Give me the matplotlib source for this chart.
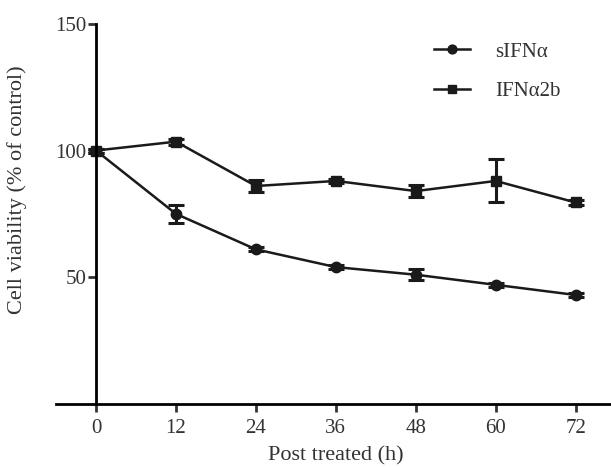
import matplotlib
matplotlib.use('Agg')
import matplotlib.pyplot as plt

plt.rcParams['font.family'] = ['Liberation Serif', 'DejaVu Serif']

hours = [0, 12, 24, 36, 48, 60, 72]

sifna = [100, 75, 61, 54, 51, 47, 43]
sifna_err = [0.8, 3.5, 0.8, 0.8, 2.2, 0.8, 0.8]

ifna2b = [100, 103.5, 86, 88, 84, 88, 79.5]
ifna2b_err = [0.8, 1.2, 2.2, 0.8, 2.5, 8.5, 1.0]

ink = '#1a1a1a'
txt = '#333333'

fig = plt.figure(figsize=(6.11, 4.67), dpi=100)
ax = fig.add_axes([0.0917, 0.135, 0.916, 0.814])

# error bars first, then the lines with markers (legend uses the plain lines)
ax.errorbar(hours, sifna, yerr=sifna_err, fmt='none', ecolor=ink,
            capsize=6, capthick=2.2, elinewidth=2.2)
ax.errorbar(hours, ifna2b, yerr=ifna2b_err, fmt='none', ecolor=ink,
            capsize=6, capthick=2.2, elinewidth=2.2)
ax.plot(hours, sifna, color=ink, marker='o', markersize=7.5, linewidth=1.8, label='sIFN\u03b1')
ax.plot(hours, ifna2b, color=ink, marker='s', markersize=7.5, linewidth=1.8, label='IFN\u03b12b')

ax.set_xlim(-6, 78)
ax.set_ylim(0, 150)
ax.spines['left'].set_position(('data', 0))
ax.spines['top'].set_visible(False)
ax.spines['right'].set_visible(False)
ax.spines['left'].set_linewidth(2)
ax.spines['bottom'].set_linewidth(2)
ax.spines['left'].set_bounds(0, 150)

ax.set_xticks(hours)
ax.set_yticks([50, 100, 150])
ax.tick_params(axis='both', width=2, length=6, labelsize=15, colors=txt)
ax.tick_params(axis='y', pad=1)
ax.tick_params(axis='x', pad=5)

ax.set_xlabel('Post treated (h)', fontsize=16, color=txt, labelpad=6)
ax.set_ylabel('Cell viability (% of control)', fontsize=16, color=txt)
ax.yaxis.set_label_coords(-0.052, 0.563)

leg = ax.legend(loc='upper left', bbox_to_anchor=(434 / 611, 1 - 42 / 467),
                bbox_transform=fig.transFigure, frameon=False, fontsize=15,
                handlelength=1.75, handletextpad=1.2, labelspacing=0.95,
                labelcolor=txt, markerscale=0.85, borderaxespad=0, borderpad=0)

plt.savefig('out.png', dpi=100)
